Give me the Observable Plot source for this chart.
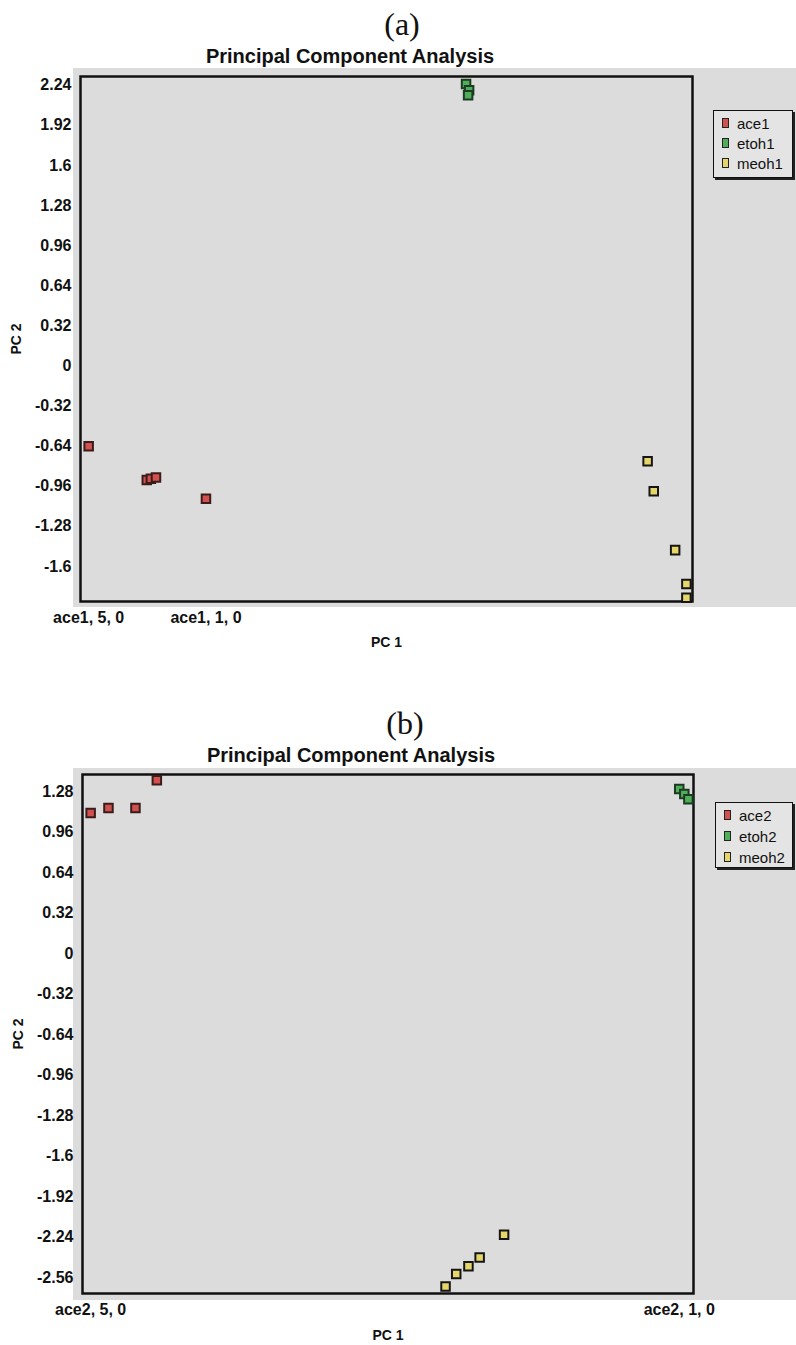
<!DOCTYPE html>
<html><head><meta charset="utf-8">
<script src="https://cdn.jsdelivr.net/npm/d3@7"></script>
<script src="https://cdn.jsdelivr.net/npm/@observablehq/plot@0.6"></script>
<style>
body{margin:0;background:#fff;}
#root{position:relative;width:796px;height:1345px;overflow:hidden;font-family:"Liberation Sans",Arial,sans-serif;color:#111;}
.c{position:absolute;transform:translate(-50%,-50%);white-space:nowrap;line-height:1;}
.panel-label{font-family:"Liberation Serif","Times New Roman",serif;font-size:32px;}
.title{font-weight:bold;font-size:20px;}
.bg{position:absolute;background:#dcdcdc;}
.legend{position:absolute;background:#e4e4e4;border:1.5px solid #111;box-shadow:2px 2px 0 #222;box-sizing:border-box;}
.row{position:absolute;font-size:15px;line-height:1;white-space:nowrap;transform:translateY(-50%);}
.sw{position:absolute;width:5px;height:8px;border:1.5px solid #222;transform:translateY(-50%);}
.plot{position:absolute;left:0;}
</style></head><body><div id="root"></div>
<script>
// ---------- data ----------
const fills = ["#d2504e", "#4fae5a", "#e6d66a"];
const strokes = ["#3b1c1c", "#1d3b22", "#151515"];

// Panel (a)
const seriesA = ["ace1", "etoh1", "meoh1"];
const ace1X = [-2.92, -2.35, -2.31, -2.26, -1.77];
const ace1Y = [-0.64, -0.91, -0.90, -0.89, -1.06];
const etoh1X = [0.78, 0.81, 0.80];
const etoh1Y = [2.25, 2.20, 2.16];
const meoh1X = [2.56, 2.62, 2.83, 2.94, 2.94];
const meoh1Y = [-0.76, -1.00, -1.47, -1.74, -1.85];
const yTicksA = [2.24, 1.92, 1.6, 1.28, 0.96, 0.64, 0.32, 0, -0.32, -0.64, -0.96, -1.28, -1.6];
const xTicksA = [-2.92, -1.77];
const xTickLabelsA = ["ace1, 5, 0", "ace1, 1, 0"];

// Panel (b)
const seriesB = ["ace2", "etoh2", "meoh2"];
const ace2X = [-2.92, -2.745, -2.48, -2.27];
const ace2Y = [1.11, 1.15, 1.15, 1.37];
const etoh2X = [2.86, 2.91, 2.95];
const etoh2Y = [1.30, 1.26, 1.22];
const meoh2X = [1.14, 0.90, 0.79, 0.67, 0.565];
const meoh2Y = [-2.22, -2.40, -2.47, -2.53, -2.63];
const yTicksB = [1.28, 0.96, 0.64, 0.32, 0, -0.32, -0.64, -0.96, -1.28, -1.6, -1.92, -2.24, -2.56];
const xTicksB = [-2.92, 2.86];
const xTickLabelsB = ["ace2, 5, 0", "ace2, 1, 0"];

// ---------- helpers ----------
const root = document.getElementById("root");
function el(cls, text, css) {
  const d = document.createElement("div");
  d.className = cls;
  if (text != null) d.textContent = text;
  Object.assign(d.style, css || {});
  root.appendChild(d);
  return d;
}
function toRows(xs, ys) { return xs.map((x, i) => ({x, y: ys[i]})); }

function panel(o) {
  const marks = [
    Plot.frame({stroke: "#111", strokeWidth: 2.5}),
    Plot.axisY({ticks: o.yTicks, tickFormat: d => String(d), tickSize: 0, tickPadding: 9, label: null, fontSize: 16, fontWeight: "bold"}),
    Plot.axisY({ticks: [], label: "PC 2", labelAnchor: "center", labelArrow: "none", labelOffset: o.yLabelOffset, fontSize: 14, fontWeight: "bold"}),
    Plot.axisX({ticks: o.xTicks, tickFormat: d => o.xLabels[o.xTicks.indexOf(d)], tickSize: 0, tickPadding: 10, label: null, fontSize: 16, fontWeight: "bold"}),
    Plot.axisX({ticks: [], label: "PC 1", labelAnchor: "center", labelArrow: "none", labelOffset: o.xLabelOffset, fontSize: 14, fontWeight: "bold"})
  ];
  o.series.forEach((s, i) => {
    marks.push(Plot.dot(toRows(o.xs[i], o.ys[i]), {x: "x", y: "y", symbol: "square", r: 4.8, fill: fills[i], stroke: strokes[i], strokeWidth: 2}));
  });
  const p = Plot.plot({
    width: 796, height: o.height,
    marginLeft: o.marginLeft, marginRight: o.marginRight, marginTop: o.marginTop, marginBottom: o.marginBottom,
    style: {background: "transparent", fontFamily: "'Liberation Sans', Arial, sans-serif", color: "#111", overflow: "visible"},
    x: {domain: [-3, 3]},
    y: {domain: o.yDomain},
    marks
  });
  p.classList.add("plot");
  p.style.position = "absolute";
  p.style.top = o.top + "px";
  p.style.left = "0px";
  root.appendChild(p);
}

function legend(names, box, rowsY) {
  const lg = el("legend", null, {left: box[0] + "px", top: box[1] + "px", width: box[2] + "px", height: box[3] + "px"});
  names.forEach((n, i) => {
    const sw = document.createElement("div");
    sw.className = "sw";
    Object.assign(sw.style, {left: "8px", top: rowsY[i] + "px", background: fills[i]});
    lg.appendChild(sw);
    const r = document.createElement("div");
    r.className = "row";
    r.textContent = n;
    Object.assign(r.style, {left: "23px", top: rowsY[i] + "px"});
    lg.appendChild(r);
  });
}

// ---------- panel (a) ----------
el("bg", null, {left: "73px", top: "68px", width: "723px", height: "539px"});
el("c panel-label", "(a)", {left: "402px", top: "24px"});
el("c title", "Principal Component Analysis", {left: "350px", top: "56px"});
panel({
  top: 60, height: 600, marginLeft: 80, marginRight: 104, marginTop: 16, marginBottom: 59,
  yDomain: [-1.88, 2.31], yTicks: yTicksA, xTicks: xTicksA, xLabels: xTickLabelsA,
  series: seriesA, xs: [ace1X, etoh1X, meoh1X], ys: [ace1Y, etoh1Y, meoh1Y],
  yLabelOffset: 69, xLabelOffset: 45
});
legend(seriesA, [713, 110, 80, 68], [12, 32, 52]);

// ---------- panel (b) ----------
el("bg", null, {left: "73px", top: "768px", width: "723px", height: "532px"});
el("c panel-label", "(b)", {left: "405px", top: "723px"});
el("c title", "Principal Component Analysis", {left: "351px", top: "755px"});
panel({
  top: 760, height: 585, marginLeft: 82, marginRight: 103, marginTop: 14, marginBottom: 52,
  yDomain: [-2.685, 1.415], yTicks: yTicksB, xTicks: xTicksB, xLabels: xTickLabelsB,
  series: seriesB, xs: [ace2X, etoh2X, meoh2X], ys: [ace2Y, etoh2Y, meoh2Y],
  yLabelOffset: 69, xLabelOffset: 46
});
legend(seriesB, [715, 802, 78, 66], [12, 33, 54]);
</script></body></html>
